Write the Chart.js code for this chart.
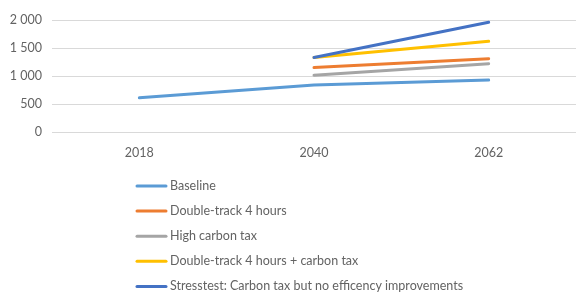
<!DOCTYPE html>
<html>
<head>
<meta charset="utf-8">
<script src="https://cdn.jsdelivr.net/npm/chart.js@4"></script>
<style>
  html, body { margin: 0; padding: 0; background: #fff; }
  #wrap { width: 585px; height: 299px; position: relative; }
</style>
</head>
<body>
<div id="wrap"><canvas id="chart"></canvas></div>
<script>
var years = ['2018', '2040', '2062'];
var yTicks = [0, 500, 1000, 1500, 2000];

var seriesNames = [
    'Baseline',
    'Double-track 4 hours',
    'High carbon tax',
    'Double-track 4 hours + carbon tax',
    'Stresstest: Carbon tax but no efficency improvements'
];
var baseline = [610, 840, 930];
var doubleTrack = [null, 1150, 1310];
var highCarbonTax = [null, 1015, 1220];
var doubleTrackTax = [null, 1330, 1620];
var stressTest = [null, 1330, 1960];

var colors = ['#5B9BD5', '#ED7D31', '#A5A5A5', '#FFC000', '#4472C4'];
var allSeries = [baseline, doubleTrack, highCarbonTax, doubleTrackTax, stressTest];

var FONT = 'Lato, "Open Sans", sans-serif';
var TXT = '#636363';

// legend as a vertical list under the plot (Excel style)
var listLegend = {
    id: 'listLegend',
    afterDraw: function(chart) {
        var ctx = chart.ctx;
        var x0 = 137, rowY = chart.chartArea.bottom + 54, step = 25.1;
        ctx.save();
        ctx.font = '12.5px ' + FONT;
        ctx.fillStyle = TXT;
        ctx.textBaseline = 'middle';
        chart.data.datasets.forEach(function(ds, i) {
            var y = rowY + i * step;
            ctx.strokeStyle = ds.borderColor;
            ctx.lineWidth = 3;
            ctx.lineCap = 'round';
            ctx.beginPath();
            ctx.moveTo(x0, y);
            ctx.lineTo(x0 + 29, y);
            ctx.stroke();
            ctx.fillText(ds.label, x0 + 33, y);
        });
        ctx.restore();
    }
};

var ctx = document.getElementById('chart').getContext('2d');
new Chart(ctx, {
    type: 'line',
    data: {
        labels: years,
        datasets: allSeries.map(function(d, i) {
            return {
                label: seriesNames[i],
                data: d,
                borderColor: colors[i],
                backgroundColor: colors[i],
                borderWidth: 3,
                pointRadius: 0,
                tension: 0,
                borderCapStyle: 'round',
                order: allSeries.length - i
            };
        })
    },
    options: {
        responsive: true,
        maintainAspectRatio: false,
        animation: false,
        layout: { padding: { top: 20, right: 9, left: 0, bottom: 0 } },
        plugins: {
            legend: { display: false },
            tooltip: { enabled: false }
        },
        scales: {
            x: {
                offset: true,
                grid: { display: false, drawTicks: false },
                border: { display: false },
                ticks: { color: TXT, font: { family: FONT, size: 12.5 }, padding: 13 },
                afterFit: function(s) { s.height = 167; }
            },
            y: {
                min: 0,
                max: 2000,
                afterBuildTicks: function(s) { s.ticks = yTicks.map(function(v) { return { value: v }; }); },
                grid: { color: '#d9d9d9', lineWidth: 1, drawTicks: false },
                border: { display: false },
                ticks: {
                    color: TXT,
                    font: { family: FONT, size: 12.5 },
                    padding: 10,
                    callback: function(v) { return String(v).replace(/\B(?=(\d{3})+(?!\d))/g, ' '); }
                },
                afterFit: function(s) { s.width = 52; }
            }
        }
    },
    plugins: [listLegend]
});
</script>
</body>
</html>
